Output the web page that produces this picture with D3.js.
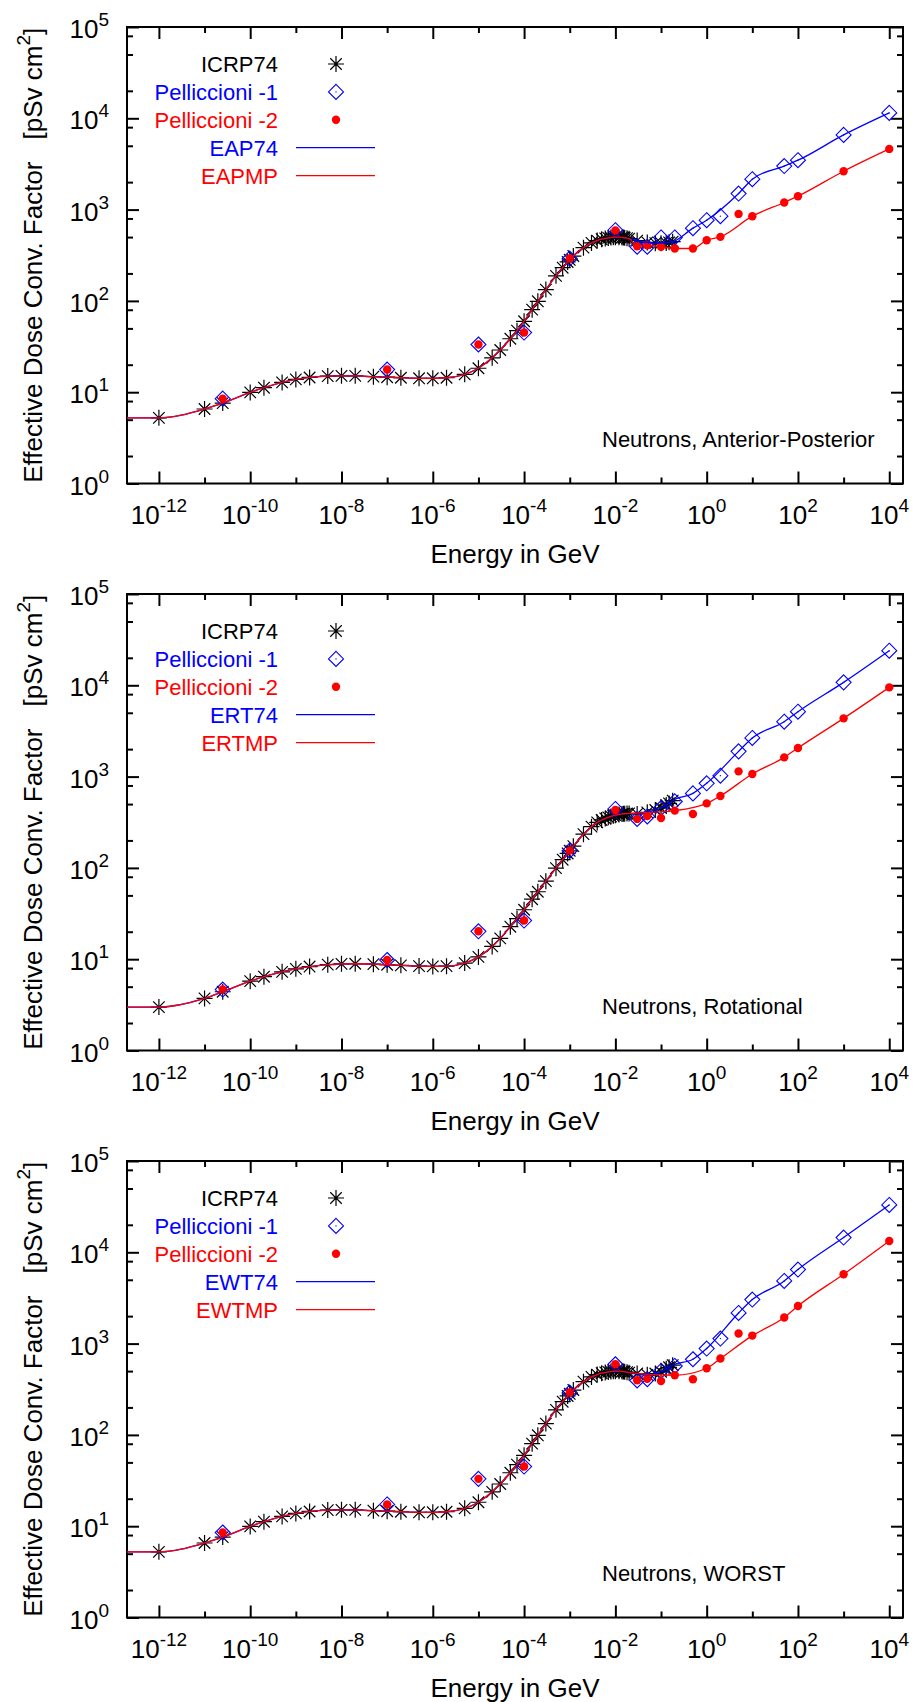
<!DOCTYPE html>
<html>
<head>
<meta charset="utf-8">
<script src="https://cdn.jsdelivr.net/npm/d3@7"></script>
<style>
  body { margin: 0; background: #fff; }
  text { font-family: "Liberation Sans", Arial, Helvetica, sans-serif; }
</style>
</head>
<body>
<svg id="chart"></svg>
<script>
// ICRP74 energies (GeV) and conversion coefficients (pSv cm2)
const icrpE = [1e-12, 1e-11, 2.5e-11, 1e-10, 2e-10, 5e-10, 1e-9, 2e-9, 5e-9, 1e-8,
  2e-8, 5e-8, 1e-7, 2e-7, 5e-7, 1e-6, 2e-6, 5e-6, 1e-5, 2e-5,
  3e-5, 5e-5, 7e-5, 1e-4, 1.5e-4, 2e-4, 3e-4, 5e-4, 7e-4, 9e-4,
  1e-3, 1.2e-3, 2e-3, 3e-3, 4e-3, 5e-3, 6e-3, 7e-3, 8e-3, 9e-3,
  1e-2, 1.2e-2, 1.4e-2, 1.5e-2, 1.6e-2, 1.8e-2, 2e-2, 3e-2, 5e-2, 7.5e-2,
  0.1, 0.13, 0.15, 0.18];
const icrpAP = [5.24, 6.55, 7.60, 9.95, 11.2, 12.8, 13.8, 14.5, 15.0, 15.1,
  15.1, 14.8, 14.6, 14.4, 14.2, 14.2, 14.4, 15.7, 18.3, 23.8,
  29.0, 38.5, 47.2, 59.8, 80.2, 99.0, 133, 188, 231, 267,
  282, 310, 383, 432, 458, 474, 483, 490, 494, 497,
  499, 499, 496, 494, 491, 486, 480, 458, 437, 429,
  429, 432, 438, 445];
const icrpROT = [2.99, 3.72, 4.40, 5.75, 6.43, 7.27, 7.84, 8.31, 8.72, 8.90,
  8.92, 8.82, 8.69, 8.56, 8.40, 8.34, 8.39, 9.06, 10.6, 13.8,
  16.9, 22.7, 27.8, 34.8, 45.4, 54.8, 71.6, 99.4, 123, 144,
  154, 173, 234, 283, 315, 335, 348, 358, 366, 373,
  378, 385, 390, 391, 393, 394, 395, 390, 406, 431,
  453, 489, 509, 545];
const icrpWORST = [5.24, 6.55, 7.60, 9.95, 11.2, 12.8, 13.8, 14.5, 15.0, 15.1,
  15.1, 14.8, 14.6, 14.4, 14.2, 14.2, 14.4, 15.7, 18.3, 23.8,
  29.0, 38.5, 47.2, 59.8, 80.2, 99.0, 133, 188, 231, 267,
  282, 310, 383, 432, 458, 474, 483, 490, 494, 497,
  499, 499, 496, 494, 491, 486, 480, 470, 455, 470,
  490, 530, 550, 580];

// Pelliccioni energies (GeV) and coefficients
const pellE = [2.5e-11, 1e-7, 1e-5, 1e-4, 1e-3, 1e-2, 0.03, 0.05, 0.1, 0.2,
  0.5, 1, 2, 5, 10, 50, 100, 1000, 10000];
const pell1AP = [8.5, 17.7, 33.3, 45, 291, 595, 392, 392, 495, 495,
  626, 765, 848, 1500, 2153, 3000, 3475, 6580, 11460];
const pell2AP = [8.5, 17.7, 33.3, 45, 291, 590, 396, 406, 392, 375,
  375, 462, 503, 897, 847, 1197, 1402, 2633, 4620];
const pell1ROT = [4.65, 9.8, 20.2, 26.5, 154.5, 442, 344, 366, 453, 535,
  655, 844, 1024, 1890, 2650, 3996, 5140, 10770, 23930];
const pell2ROT = [4.65, 9.8, 20.2, 26.5, 154.5, 431, 344, 371, 352, 424,
  390, 509, 614, 1141, 1069, 1625, 2060, 4345, 9485];
const pell1WORST = [8.53, 17.3, 33.0, 45, 291, 594, 395, 408, 502, 569,
  674, 883, 1135, 2166, 3036, 4853, 6470, 14500, 32990];
const pell2WORST = [8.53, 17.3, 33.0, 45, 291, 594, 397, 412, 390, 450,
  407, 537, 686, 1288, 1224, 1929, 2584, 5745, 13300];

// energies of the Pelliccioni points the fitted lines pass through
const knots74 = [0.5, 1, 5, 10, 50, 100, 1000, 10000];
const knotsMPAP = [0.03, 0.05, 0.1, 0.2, 0.5, 1, 2, 10, 50, 100, 1000, 10000];
const knotsMPROT = [0.2, 1, 2, 10, 50, 100, 1000, 10000];
const knotsMPWORST = [0.2, 1, 2, 10, 50, 100, 1000, 10000];

const xExponents = [-12, -11, -10, -9, -8, -7, -6, -5, -4, -3, -2, -1, 0, 1, 2, 3, 4];
const yExponents = [0, 1, 2, 3, 4, 5];
const yMinorMant = [2, 5, 8];

const panels = [
  {icrp: icrpAP, p1: pell1AP, p2: pell2AP, knotsMP: knotsMPAP,
   names: ["EAP74", "EAPMP"], note: "Neutrons, Anterior-Posterior"},
  {icrp: icrpROT, p1: pell1ROT, p2: pell2ROT, knotsMP: knotsMPROT,
   names: ["ERT74", "ERTMP"], note: "Neutrons, Rotational"},
  {icrp: icrpWORST, p1: pell1WORST, p2: pell2WORST, knotsMP: knotsMPWORST,
   names: ["EWT74", "EWTMP"], note: "Neutrons, WORST"}
];

const width = 915, height = 1702;
const left = 127, right = 903, plotH = 456.5, step = 567, firstTop = 27;
const BLUE = "#0000ff", RED = "#ff0000";

const svg = d3.select("#chart").attr("width", width).attr("height", height);

const x = d3.scaleLog().domain([2e-13, 2e4]).range([left, right]);

function starPath(r) {
  const d = r * 0.72;
  return `M${-r},0H${r}M0,${-r}V${r}M${-d},${-d}L${d},${d}M${-d},${d}L${d},${-d}`;
}
function diamondPath(r) {
  return `M0,${-r}L${r},0L0,${r}L${-r},0Z`;
}
function drawStar(g, cx, cy) {
  g.append("path").attr("d", starPath(8)).attr("transform", `translate(${cx},${cy})`)
    .attr("stroke", "#000").attr("stroke-width", 1.2).attr("fill", "none");
}
function drawDiamond(g, cx, cy) {
  g.append("path").attr("d", diamondPath(7.5)).attr("transform", `translate(${cx},${cy})`)
    .attr("stroke", BLUE).attr("stroke-width", 1.1).attr("fill", "none");
  g.append("circle").attr("cx", cx).attr("cy", cy).attr("r", 0.7).attr("fill", BLUE);
}
function drawDot(g, cx, cy) {
  g.append("circle").attr("cx", cx).attr("cy", cy).attr("r", 4.2).attr("fill", RED);
}

function tickAxis(g, axisFn, scale, values, size, transform) {
  g.append("g").attr("transform", transform)
    .call(axisFn(scale).tickValues(values).tickSize(size).tickFormat(""))
    .call(a => a.select(".domain").remove())
    .selectAll("line").attr("stroke", "#000").attr("stroke-width", 2);
}

function powLabel(g, px, py, exp, anchor) {
  const t = g.append("text").attr("x", px).attr("y", py)
    .attr("text-anchor", anchor).attr("font-size", 26).attr("fill", "#000");
  t.append("tspan").text("10");
  t.append("tspan").attr("dy", -12).attr("font-size", 19).text(exp);
}

panels.forEach((p, i) => {
  const top = firstTop + i * step, bottom = top + plotH;
  const y = d3.scaleLog().domain([1, 1e5]).range([bottom, top]);
  const g = svg.append("g");

  const clipId = "clip" + i;
  svg.append("clipPath").attr("id", clipId).append("rect")
    .attr("x", left).attr("y", top).attr("width", right - left).attr("height", plotH);

  // ticks
  const xMajor = xExponents.filter(e => e % 2 === 0).map(e => Math.pow(10, e));
  const xMinor = xExponents.filter(e => e % 2 !== 0).map(e => Math.pow(10, e));
  const yMajor = yExponents.map(e => Math.pow(10, e));
  const yMinor = [];
  yExponents.slice(0, -1).forEach(e => yMinorMant.forEach(m => yMinor.push(m * Math.pow(10, e))));

  tickAxis(g, d3.axisBottom, x, xMajor, -12, `translate(0,${bottom})`);
  tickAxis(g, d3.axisBottom, x, xMinor, -6, `translate(0,${bottom})`);
  tickAxis(g, d3.axisTop, x, xMajor, -12, `translate(0,${top})`);
  tickAxis(g, d3.axisTop, x, xMinor, -6, `translate(0,${top})`);
  tickAxis(g, d3.axisLeft, y, yMajor, -12, `translate(${left},0)`);
  tickAxis(g, d3.axisLeft, y, yMinor, -6, `translate(${left},0)`);
  tickAxis(g, d3.axisRight, y, yMajor, -12, `translate(${right},0)`);
  tickAxis(g, d3.axisRight, y, yMinor, -6, `translate(${right},0)`);

  // frame
  g.append("rect").attr("x", left).attr("y", top).attr("width", right - left).attr("height", plotH)
    .attr("fill", "none").attr("stroke", "#000").attr("stroke-width", 2);

  // tick labels
  xExponents.filter(e => e % 2 === 0).forEach(e => {
    powLabel(g, x(Math.pow(10, e)), bottom + 40, String(e), "middle");
  });
  yExponents.forEach(e => {
    powLabel(g, 109, y(Math.pow(10, e)) + 11, String(e), "end");
  });

  // axis titles
  g.append("text").attr("x", (left + right) / 2).attr("y", bottom + 79)
    .attr("text-anchor", "middle").attr("font-size", 26).text("Energy in GeV");
  const yt = g.append("text").attr("transform", `translate(42,${(top + bottom) / 2}) rotate(-90)`)
    .attr("text-anchor", "middle").attr("font-size", 26);
  yt.append("tspan").text("Effective Dose Conv. Factor");
  yt.append("tspan").attr("dx", 22).text("[pSv cm");
  yt.append("tspan").attr("dy", -12).attr("font-size", 19).text("2");
  yt.append("tspan").attr("dy", 12).text("]");

  // lines
  const icrpPts = icrpE.map((e, j) => [e, p.icrp[j]]);
  const p1Pts = pellE.map((e, j) => [e, p.p1[j]]);
  const p2Pts = pellE.map((e, j) => [e, p.p2[j]]);
  const start = [x.domain()[0], p.icrp[0]];
  const line74 = [start].concat(icrpPts.filter(d => d[0] <= 0.18), p1Pts.filter(d => knots74.includes(d[0])));
  const lineMP = [start].concat(icrpPts.filter(d => d[0] <= 0.02), p2Pts.filter(d => p.knotsMP.includes(d[0])));

  const line = d3.line().x(d => x(d[0])).y(d => y(d[1])).curve(d3.curveMonotoneX);

  // points
  const pts = g.append("g").attr("clip-path", `url(#${clipId})`);
  icrpPts.forEach(d => drawStar(pts, x(d[0]), y(d[1])));
  p1Pts.forEach(d => drawDiamond(pts, x(d[0]), y(d[1])));
  p2Pts.forEach(d => drawDot(pts, x(d[0]), y(d[1])));

  pts.append("path").attr("d", line(line74)).attr("fill", "none")
    .attr("stroke", BLUE).attr("stroke-width", 1.3);
  pts.append("path").attr("d", line(lineMP)).attr("fill", "none")
    .attr("stroke", RED).attr("stroke-width", 1.3);

  // legend
  const labels = ["ICRP74", "Pelliccioni -1", "Pelliccioni -2", p.names[0], p.names[1]];
  const colors = ["#000", BLUE, RED, BLUE, RED];
  labels.forEach((lab, k) => {
    const by = top + 45 + k * 27.9;
    g.append("text").attr("x", 278).attr("y", by).attr("text-anchor", "end")
      .attr("font-size", 22).attr("fill", colors[k]).text(lab);
    const cy = by - 8;
    if (k === 0) drawStar(g, 336, cy);
    else if (k === 1) drawDiamond(g, 336, cy);
    else if (k === 2) drawDot(g, 336, cy);
    else g.append("line").attr("x1", 296).attr("x2", 375).attr("y1", cy).attr("y2", cy)
      .attr("stroke", colors[k]).attr("stroke-width", 1.3);
  });

  // annotation
  g.append("text").attr("x", 602).attr("y", top + 420).attr("font-size", 22)
    .attr("fill", "#000").text(p.note);
});
</script>
</body>
</html>
